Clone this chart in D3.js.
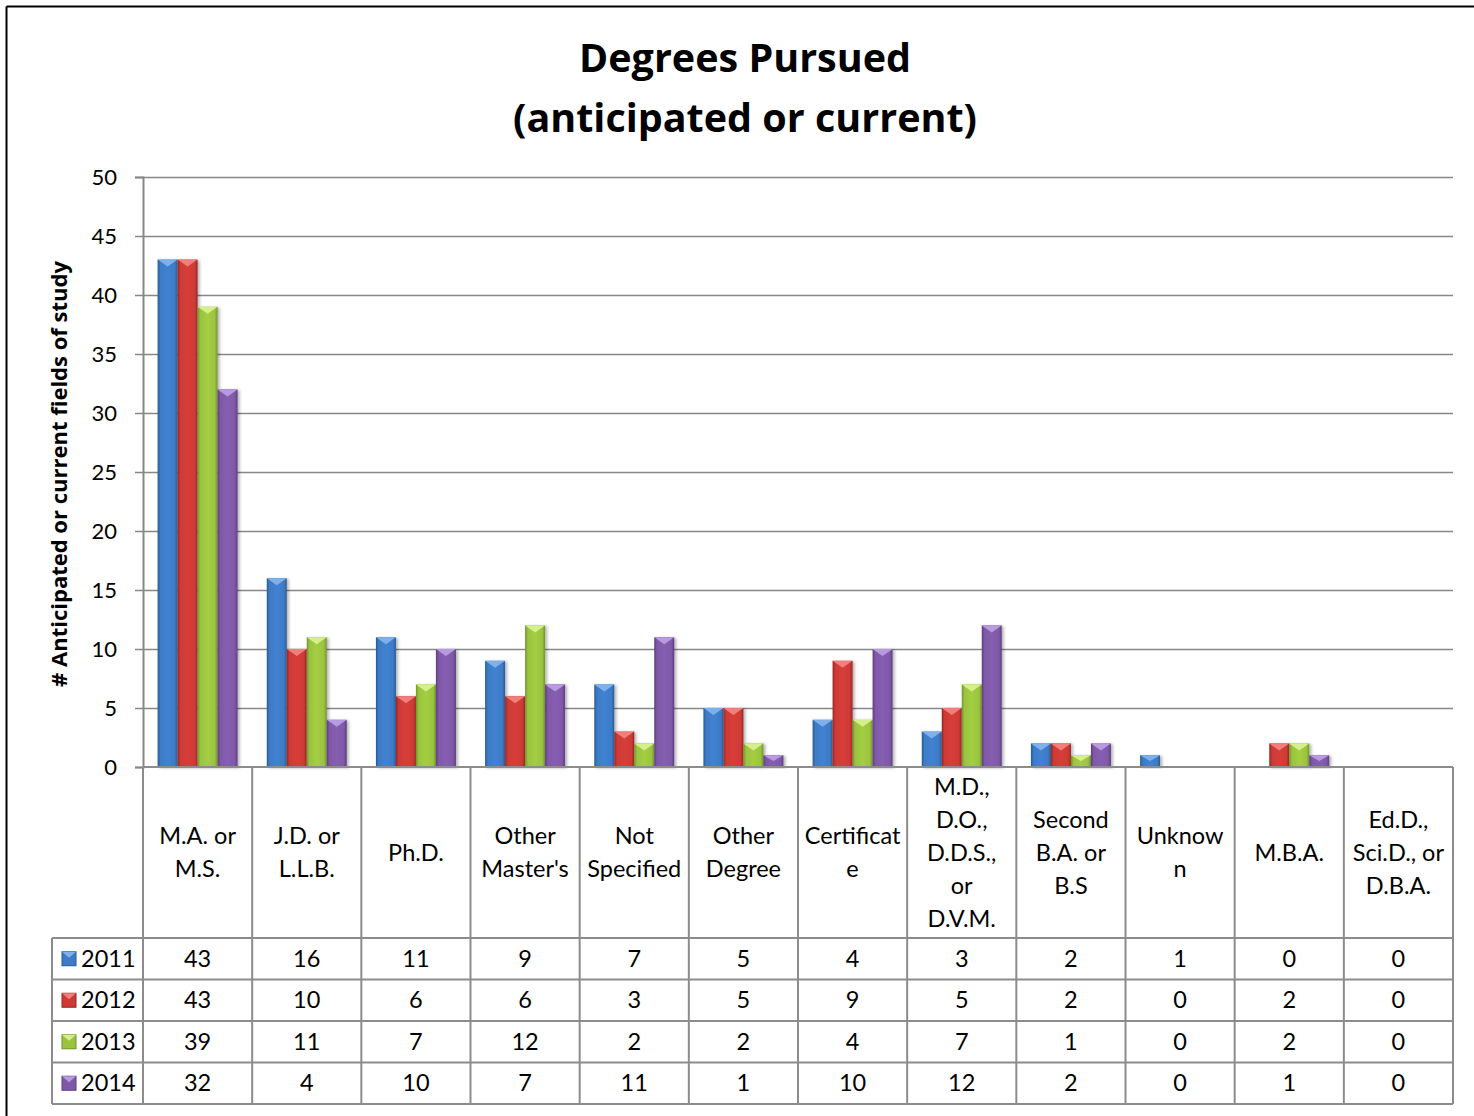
<!DOCTYPE html>
<html>
<head>
<meta charset="utf-8">
<script src="https://cdn.jsdelivr.net/npm/d3@7"></script>
<style>
  html, body { margin: 0; padding: 0; background: #fff; }
  svg { display: block; }
  text { font-family: Lato, "Open Sans", "Liberation Sans", sans-serif; fill: #000; }
</style>
</head>
<body>
<svg id="chart" width="1474" height="1116"></svg>
<script>
// Degree categories (wrapped as they appear in the table header cells)
const categories = [
  "M.A. or\nM.S.",
  "J.D. or\nL.L.B.",
  "Ph.D.",
  "Other\nMaster's",
  "Not\nSpecified",
  "Other\nDegree",
  "Certificat\ne",
  "M.D.,\nD.O.,\nD.D.S.,\nor\nD.V.M.",
  "Second\nB.A. or\nB.S",
  "Unknow\nn",
  "M.B.A.",
  "Ed.D.,\nSci.D., or\nD.B.A."
];
const years = ["2011", "2012", "2013", "2014"];
const values2011 = [43, 16, 11, 9, 7, 5, 4, 3, 2, 1, 0, 0];
const values2012 = [43, 10, 6, 6, 3, 5, 9, 5, 2, 0, 2, 0];
const values2013 = [39, 11, 7, 12, 2, 2, 4, 7, 1, 0, 2, 0];
const values2014 = [32, 4, 10, 7, 11, 1, 10, 12, 2, 0, 1, 0];
const yTicks = [0, 5, 10, 15, 20, 25, 30, 35, 40, 45, 50];

const seriesValues = [values2011, values2012, values2013, values2014];
const colors = {
  "2011": { base: "#3d7bc6", dark: "#2a5a94", light: "#7fb0ea" },
  "2012": { base: "#cd3a36", dark: "#9a2623", light: "#f07f7b" },
  "2013": { base: "#9bc33f", dark: "#71942a", light: "#d4ef8c" },
  "2014": { base: "#7f59a8", dark: "#5b3d7e", light: "#b79ae0" }
};

const svg = d3.select("#chart");
const margin = { left: 143, right: 1453, top: 177, bottom: 767 };
const tableLeft = 52;
const labelBottom = 938;
const rowH = 41.5;
const tableFont = "23.5px";

// Outer frame (top and left edges visible)
svg.append("line").attr("x1", 6.5).attr("x2", 1474).attr("y1", 6.5).attr("y2", 6.5)
  .attr("stroke", "#000").attr("stroke-width", 2);
svg.append("line").attr("x1", 6.5).attr("x2", 6.5).attr("y1", 6.5).attr("y2", 1116)
  .attr("stroke", "#000").attr("stroke-width", 2);

// Title
const title = svg.append("text").attr("text-anchor", "middle")
  .style("font-family", "'Open Sans', Lato, sans-serif")
  .style("font-weight", "bold").style("font-size", "39.5px");
title.append("tspan").attr("x", 745).attr("y", 72).text("Degrees Pursued");
title.append("tspan").attr("x", 745).attr("y", 132).text("(anticipated or current)");

const x0 = d3.scaleBand().domain(d3.range(categories.length))
  .range([margin.left, margin.right]).padding(0);
const x1 = d3.scaleBand().domain(years)
  .range([0, x0.bandwidth()]).paddingInner(0).paddingOuter(0.73);
const y = d3.scaleLinear().domain([0, 50]).range([margin.bottom, margin.top]);

// Gridlines
svg.append("g").selectAll("line").data(yTicks.filter(d => d > 0)).join("line")
  .attr("x1", margin.left).attr("x2", margin.right)
  .attr("y1", d => y(d) + 0.5).attr("y2", d => y(d) + 0.5)
  .attr("stroke", "#878787").attr("stroke-width", 1.5);

// Y axis
const yAxis = svg.append("g").attr("transform", `translate(${margin.left},0)`)
  .call(d3.axisLeft(y).tickValues(yTicks).tickSize(8).tickPadding(18));
yAxis.select(".domain").attr("stroke", "#878787").attr("stroke-width", 2);
yAxis.selectAll(".tick line").attr("stroke", "#878787").attr("stroke-width", 1.5);
yAxis.selectAll(".tick text").style("font-size", "22px")
  .style("font-family", "Lato, 'Open Sans', sans-serif").attr("fill", "#000");

// Y axis title
svg.append("text")
  .attr("transform", `translate(67,${(margin.top + margin.bottom) / 2 + 2}) rotate(-90)`)
  .attr("text-anchor", "middle")
  .style("font-family", "'Open Sans', Lato, sans-serif")
  .style("font-weight", "bold").style("font-size", "22px")
  .text("# Anticipated or current fields of study");

// Gradients and shadow
const defs = svg.append("defs");
years.forEach(yr => {
  const c = colors[yr];
  const g = defs.append("linearGradient").attr("id", "grad" + yr)
    .attr("x1", "0%").attr("x2", "100%").attr("y1", "0%").attr("y2", "0%");
  g.append("stop").attr("offset", "0%").attr("stop-color", c.dark);
  g.append("stop").attr("offset", "14%").attr("stop-color", c.base);
  g.append("stop").attr("offset", "50%").attr("stop-color", d3.color(c.base).brighter(0.15));
  g.append("stop").attr("offset", "86%").attr("stop-color", c.base);
  g.append("stop").attr("offset", "100%").attr("stop-color", c.dark);
});
const f = defs.append("filter").attr("id", "shadow")
  .attr("x", "-20%").attr("y", "-5%").attr("width", "150%").attr("height", "115%");
f.append("feDropShadow").attr("dx", 2).attr("dy", 1).attr("stdDeviation", 1.5)
  .attr("flood-color", "#000").attr("flood-opacity", 0.3);

// Bars
const bars = [];
categories.forEach((cat, i) => {
  years.forEach((yr, s) => {
    bars.push({ i, yr, v: seriesValues[s][i] });
  });
});
const barG = svg.append("g").selectAll("g").data(bars.filter(d => d.v > 0)).join("g")
  .attr("filter", "url(#shadow)");
barG.append("rect")
  .attr("x", d => x0(d.i) + x1(d.yr))
  .attr("y", d => y(d.v))
  .attr("width", x1.bandwidth())
  .attr("height", d => y(0) - y(d.v))
  .attr("fill", d => `url(#grad${d.yr})`);
barG.append("path")
  .attr("d", d => {
    const xl = x0(d.i) + x1(d.yr), w = x1.bandwidth(), yt = y(d.v);
    const h = Math.min(7, (y(0) - yt) / 2);
    return `M${xl},${yt}L${xl + w},${yt}L${xl + w / 2},${yt + h}Z`;
  })
  .attr("fill", d => colors[d.yr].light);

// Data table
const tableG = svg.append("g");
const lineColor = "#8c8c8c";
const rowsTop = labelBottom;
const tableBottom = rowsTop + rowH * years.length;
// vertical lines between categories
d3.range(categories.length + 1).forEach(k => {
  const xx = k < categories.length ? x0(k) : margin.right;
  tableG.append("line").attr("x1", xx).attr("x2", xx)
    .attr("y1", margin.bottom).attr("y2", tableBottom)
    .attr("stroke", lineColor).attr("stroke-width", 2);
});
tableG.append("line").attr("x1", tableLeft).attr("x2", tableLeft)
  .attr("y1", rowsTop).attr("y2", tableBottom).attr("stroke", lineColor).attr("stroke-width", 2);
// horizontal lines
tableG.append("line").attr("x1", margin.left).attr("x2", margin.right)
  .attr("y1", margin.bottom).attr("y2", margin.bottom).attr("stroke", lineColor).attr("stroke-width", 2);
d3.range(years.length + 1).forEach(r => {
  const yy = rowsTop + r * rowH;
  tableG.append("line").attr("x1", tableLeft).attr("x2", margin.right)
    .attr("y1", yy).attr("y2", yy).attr("stroke", lineColor).attr("stroke-width", 2);
});

// category header labels
const lineH = 33;
categories.forEach((cat, i) => {
  const lines = cat.split("\n");
  const cx = x0(i) + x0.bandwidth() / 2;
  const cy = (margin.bottom + labelBottom) / 2;
  const t = tableG.append("text").attr("text-anchor", "middle").style("font-size", tableFont);
  lines.forEach((ln, k) => {
    t.append("tspan").attr("x", cx)
      .attr("y", cy + (k - (lines.length - 1) / 2) * lineH)
      .attr("dy", "0.35em").text(ln);
  });
});

// rows: legend key + values
years.forEach((yr, r) => {
  const cy = rowsTop + r * rowH + rowH / 2;
  const c = colors[yr];
  tableG.append("rect").attr("x", 62).attr("y", cy - 7).attr("width", 14).attr("height", 14)
    .attr("fill", c.base).attr("stroke", c.dark).attr("stroke-width", 1);
  tableG.append("path")
    .attr("d", `M62,${cy - 7}L76,${cy - 7}L69,${cy - 1}Z`).attr("fill", c.light);
  tableG.append("text").attr("x", 81).attr("y", cy).attr("dy", "0.35em")
    .style("font-size", tableFont).text(yr);
  seriesValues[r].forEach((v, i) => {
    tableG.append("text").attr("x", x0(i) + x0.bandwidth() / 2).attr("y", cy)
      .attr("dy", "0.35em").attr("text-anchor", "middle").style("font-size", tableFont).text(v);
  });
});
</script>
</body>
</html>
